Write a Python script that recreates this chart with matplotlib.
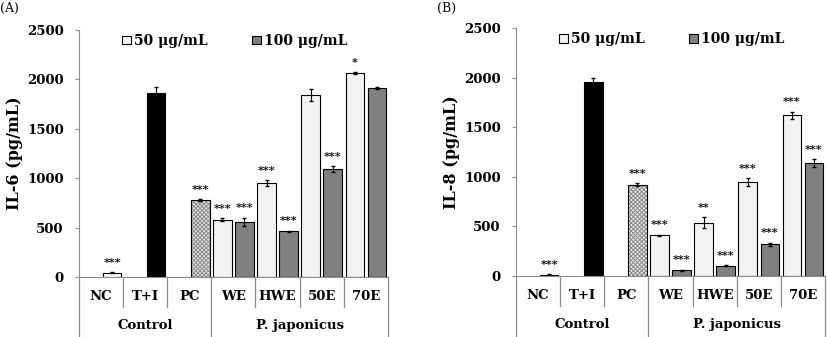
import numpy as np
import matplotlib.pyplot as plt
from matplotlib.patches import Patch
from matplotlib.transforms import blended_transform_factory

# categories
categories = ["NC", "T+I", "PC", "WE", "HWE", "50E", "70E"]
groups = ["Control", "P. japonicus"]
extracts = ["WE", "HWE", "50E", "70E"]

# IL-6 (panel A)
il6_ctrl = [45, 1860, 780]
il6_ctrl_err = [5, 60, 10]
il6_ctrl_sig = ["***", "", "***"]
il6_50 = [580, 950, 1840, 2060]
il6_50_err = [15, 30, 60, 10]
il6_50_sig = ["***", "***", "", "*"]
il6_100 = [560, 465, 1090, 1915]
il6_100_err = [40, 5, 30, 10]
il6_100_sig = ["***", "***", "***", ""]

# IL-8 (panel B)
il8_ctrl = [15, 1960, 920]
il8_ctrl_err = [3, 38, 15]
il8_ctrl_sig = ["***", "", "***"]
il8_50 = [410, 540, 945, 1620]
il8_50_err = [8, 55, 40, 40]
il8_50_sig = ["***", "**", "***", "***"]
il8_100 = [58, 105, 320, 1140]
il8_100_err = [4, 4, 15, 40]
il8_100_sig = ["***", "***", "***", "***"]

plt.rcParams['font.family'] = ['DejaVu Serif']
plt.rcParams['hatch.linewidth'] = 0.7

fig = plt.figure(figsize=(8.27, 3.37), dpi=100)
ax_a = fig.add_axes([0.0955, 0.178, 0.3735, 0.733])
ax_b = fig.add_axes([0.624, 0.181, 0.3735, 0.735])

bw = 0.42
off = 0.25
light = "#f2f2f2"
dark = "#808080"
axis_gray = "#8c8c8c"
err_kw = dict(ecolor="black", elinewidth=0.8, capsize=1.5)


def draw_panel(ax, ctrl, ctrl_err, ctrl_sig, v50, e50, s50, v100, e100, s100, ylabel):
    x_ctrl = np.arange(3) + off
    # checkered fill for PC, drawn under the outlined bars
    ax.bar(x_ctrl[2], ctrl[2], bw, color="#e8e8e8", edgecolor="#8a8a8a", linewidth=0,
           hatch="xxxxxxxx")
    ax.bar(x_ctrl, ctrl, bw, color=["white", "black", "none"], edgecolor="black",
           linewidth=0.8, yerr=ctrl_err, error_kw=err_kw)
    x_ext = np.arange(3, 7)
    ax.bar(x_ext - off, v50, bw, color=light, edgecolor="black", linewidth=0.8,
           yerr=e50, error_kw=err_kw)
    ax.bar(x_ext + off, v100, bw, color=dark, edgecolor="black", linewidth=0.8,
           yerr=e100, error_kw=err_kw)

    for xs, vals, errs, sigs in [(x_ctrl, ctrl, ctrl_err, ctrl_sig),
                                 (x_ext - off, v50, e50, s50),
                                 (x_ext + off, v100, e100, s100)]:
        for x, v, e, s in zip(xs, vals, errs, sigs):
            if s:
                ax.text(x, v + e + 45, s, ha="center", va="bottom", fontsize=8, fontweight="bold")

    ax.set_xlim(-0.5, 6.5)
    ax.set_ylim(0, 2500)
    ax.set_yticks([0, 500, 1000, 1500, 2000, 2500])
    ax.tick_params(axis="y", labelsize=9.5, length=3, color=axis_gray, pad=8)
    for lab in ax.get_yticklabels():
        lab.set_fontweight("bold")
    ax.set_xticks([])
    for sp in ["top", "right"]:
        ax.spines[sp].set_visible(False)
    ax.spines["left"].set_color(axis_gray)
    ax.spines["bottom"].set_color(axis_gray)
    ax.set_ylabel(ylabel, fontsize=11.5, fontweight="bold", labelpad=3)

    tr = blended_transform_factory(ax.transData, ax.transAxes)
    for i in range(1, 7):
        bottom = -0.25 if i == 3 else -0.122
        ax.plot([i - 0.5, i - 0.5], [0, bottom], color=axis_gray, lw=0.9,
                transform=tr, clip_on=False)
    for xe in [-0.5, 6.5]:
        ax.plot([xe, xe], [0, -0.25], color=axis_gray, lw=0.9, transform=tr, clip_on=False)
    for i, c in enumerate(categories):
        ax.text(i, -0.08, c, ha="center", va="center", fontsize=9.5, fontweight="bold",
                transform=tr)
    ax.text(1, -0.195, groups[0], ha="center", va="center", fontsize=9.5, fontweight="bold",
            transform=tr)
    ax.text(4.5, -0.195, groups[1], ha="center", va="center", fontsize=9.5, fontweight="bold",
            transform=tr)

    handles = [Patch(facecolor=light, edgecolor="black", linewidth=0.8, label="50 \u03bcg/mL"),
               Patch(facecolor=dark, edgecolor="black", linewidth=0.8, label="100 \u03bcg/mL")]
    ax.legend(handles=handles, ncol=2, frameon=False, loc="upper left",
              bbox_to_anchor=(0.10, 1.035), handlelength=0.6, handleheight=0.6,
              handletextpad=0.25, columnspacing=3.2,
              prop=dict(size=10, weight="bold"))


draw_panel(ax_a, il6_ctrl, il6_ctrl_err, il6_ctrl_sig, il6_50, il6_50_err, il6_50_sig,
           il6_100, il6_100_err, il6_100_sig, "IL-6 (pg/mL)")
draw_panel(ax_b, il8_ctrl, il8_ctrl_err, il8_ctrl_sig, il8_50, il8_50_err, il8_50_sig,
           il8_100, il8_100_err, il8_100_sig, "IL-8 (pg/mL)")

fig.text(0.0, 0.975, "(A)", ha="left", va="center", fontsize=9)
fig.text(0.528, 0.975, "(B)", ha="left", va="center", fontsize=9)

fig.savefig("out.png", dpi=100)
